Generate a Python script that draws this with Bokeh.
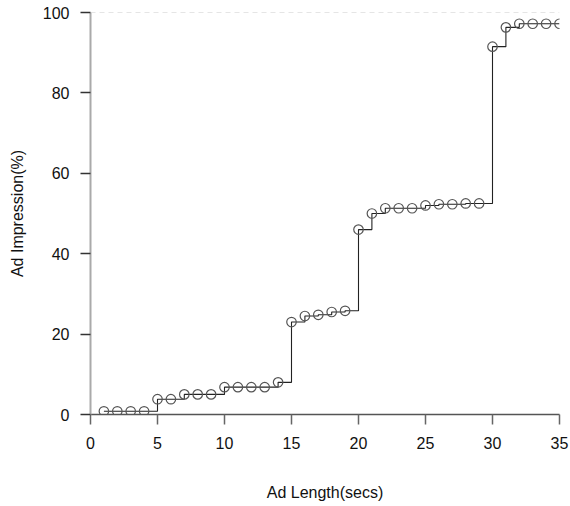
from bokeh.plotting import figure
from bokeh.models import Range1d, ColumnDataSource, Span, FixedTicker
from bokeh.embed import file_html
from bokeh.resources import INLINE

ad_length = [1, 2, 3, 4, 5, 6, 7, 8, 9, 10, 11, 12, 13, 14, 15, 16, 17, 18,
             19, 20, 21, 22, 23, 24, 25, 26, 27, 28, 29, 30, 31, 32, 33, 34, 35]
impression = [0.8, 0.8, 0.8, 0.8, 3.8, 3.8, 5.0, 5.0, 5.0, 6.8, 6.8, 6.8, 6.8, 8.0,
              23.0, 24.5, 24.8, 25.5, 25.8, 46.0, 50.0, 51.3, 51.3, 51.3, 52.0,
              52.3, 52.3, 52.5, 52.5, 91.5, 96.3, 97.2, 97.2, 97.2, 97.2]
x_ticks = [0, 5, 10, 15, 20, 25, 30, 35]
y_ticks = [0, 20, 40, 60, 80, 100]

src = ColumnDataSource(dict(x=ad_length, y=impression))

p = figure(width=570, height=506, output_backend="svg", toolbar_location=None,
           x_range=Range1d(0, 35), y_range=Range1d(0, 100),
           min_border_left=90, min_border_right=11, min_border_top=12, min_border_bottom=92)
p.outline_line_color = None
p.xgrid.grid_line_color = None
p.ygrid.grid_line_color = None

p.add_layout(Span(location=100, dimension="width", line_color="#cccccc",
                  line_dash="5 4", line_width=1))

p.step("x", "y", source=src, mode="after", line_color="#222222", line_width=1.1)
p.scatter("x", "y", source=src, size=9.5, marker="circle", fill_color=None,
          line_color="#555555", line_width=1.2)

font = "Liberation Sans"
p.xaxis.ticker = FixedTicker(ticks=x_ticks)
p.yaxis.ticker = FixedTicker(ticks=y_ticks)
p.xaxis.axis_label = "Ad Length(secs)"
p.yaxis.axis_label = "Ad Impression(%)"
for ax in (p.xaxis, p.yaxis):
    ax.major_label_text_font = font
    ax.major_label_text_font_size = "16px"
    ax.major_label_text_color = "#111111"
    ax.axis_label_text_font = font
    ax.axis_label_text_font_size = "16px"
    ax.axis_label_text_font_style = "normal"
    ax.axis_label_text_color = "#111111"
    ax.major_tick_in = 0
    ax.major_tick_out = 10
    ax.minor_tick_in = 0
    ax.minor_tick_out = 0
    ax.major_tick_line_width = 1.5
p.xaxis.major_tick_line_color = "#666666"
p.yaxis.major_tick_line_color = "#333333"
p.xaxis.axis_line_color = "#555555"
p.xaxis.axis_line_width = 1.5
p.yaxis.axis_line_color = "#aaaaaa"
p.yaxis.axis_line_width = 2
p.xaxis.major_label_standoff = 12
p.yaxis.major_label_standoff = 11
p.xaxis.axis_label_standoff = 32
p.yaxis.axis_label_standoff = 14

open("out.html", "w").write(file_html(p, INLINE))
